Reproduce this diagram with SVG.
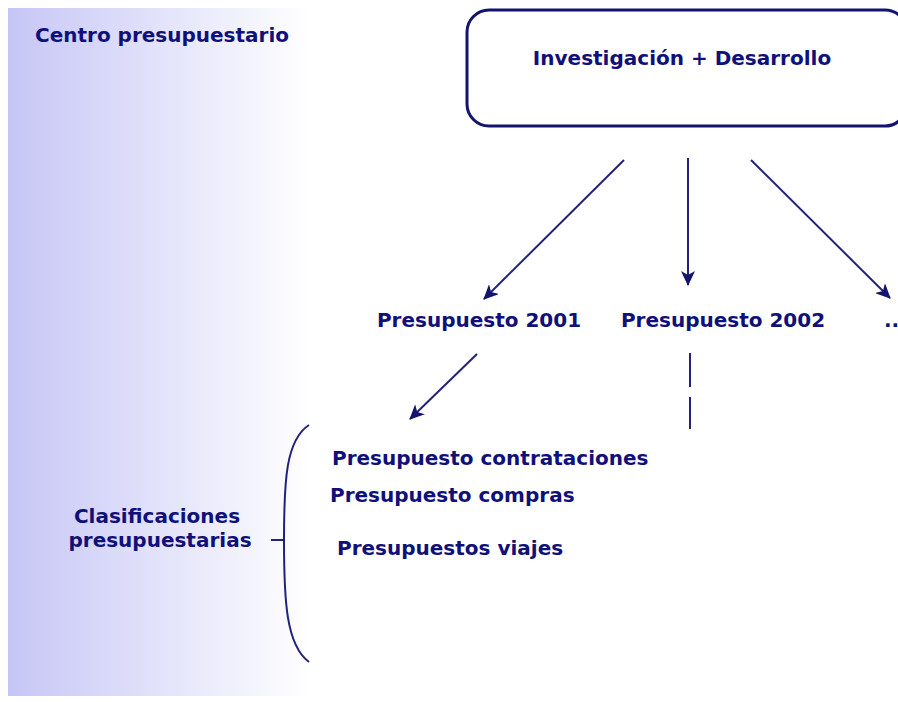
<svg xmlns="http://www.w3.org/2000/svg" width="898" height="702" viewBox="0 0 898 702">
<defs>
<linearGradient id="bg" x1="0" y1="0" x2="1" y2="0">
<stop offset="0" stop-color="#c6c6f6"/>
<stop offset="1" stop-color="#ffffff"/>
</linearGradient>
<marker id="ah" markerWidth="15" markerHeight="14" refX="14" refY="7" orient="auto" markerUnits="userSpaceOnUse" viewBox="0 0 15 14">
<path d="M0,0 L15,7 L0,14 L4,7 Z" fill="#14146e"/>
</marker>
<style>
text{font-family:"DejaVu Sans",Verdana,sans-serif;font-weight:bold;font-size:20px;fill:#10107a}
.ln{stroke:#22227a;stroke-width:2;fill:none}
</style>
</defs>
<rect x="8" y="8" width="302" height="688" fill="url(#bg)"/>
<g id="panel-label"><text x="35" y="42">Centro presupuestario</text></g>
<g id="node-id">
<rect x="467" y="10" width="440" height="116" rx="22" ry="22" fill="#ffffff" stroke="#14146e" stroke-width="3"/>
<text x="682" y="65" text-anchor="middle">Investigación + Desarrollo</text>
</g>
<g id="node-2001"><text x="479" y="327" text-anchor="middle">Presupuesto 2001</text></g>
<g id="node-2002"><text x="723" y="327" text-anchor="middle">Presupuesto 2002</text></g>
<g id="node-more"><text x="884" y="327">...</text></g>
<g id="node-classes">
<text x="332" y="465">Presupuesto contrataciones</text>
<text x="330" y="502">Presupuesto compras</text>
<text x="337" y="555">Presupuestos viajes</text>
</g>
<g id="node-clasif">
<text x="157" y="523" text-anchor="middle">Clasificaciones</text>
<text x="160" y="547" text-anchor="middle">presupuestarias</text>
</g>
<g id="connectors">
<line class="ln" x1="624" y1="160" x2="484" y2="299" marker-end="url(#ah)"/>
<line class="ln" x1="688" y1="158" x2="688" y2="285" marker-end="url(#ah)"/>
<line class="ln" x1="751" y1="160" x2="890" y2="298" marker-end="url(#ah)"/>
<line class="ln" x1="477" y1="354" x2="410" y2="419" marker-end="url(#ah)"/>
<line class="ln" x1="690" y1="353" x2="690" y2="387"/>
<line class="ln" x1="690" y1="397" x2="690" y2="429"/>
<path class="ln" d="M309,425 C286,440 284,480 284,540 C284,600 286,645 309,662" stroke-width="3"/>
<line class="ln" x1="271" y1="540" x2="285" y2="540" stroke-width="2.5"/>
</g>
</svg>
